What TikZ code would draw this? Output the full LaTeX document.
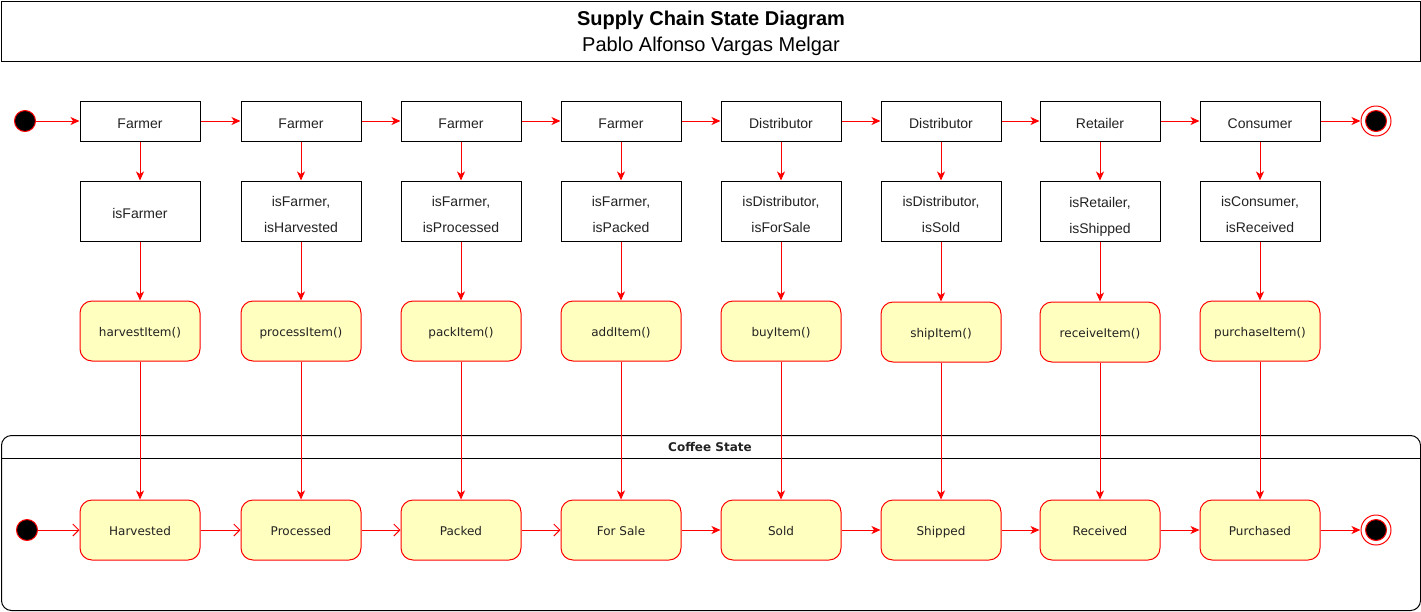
\documentclass[tikz,border=0pt]{standalone}
\usepackage{fontspec}
\setmainfont{Liberation Sans}
\newfontfamily\verd{DejaVu Sans}
\usetikzlibrary{arrows.meta}
\definecolor{stateyellow}{HTML}{FFFFC0}
\definecolor{txt}{HTML}{222222}
\newcommand\myupstrut{\rule{0pt}{18pt}}
\begin{document}
\begin{tikzpicture}[x=1pt,y=-1pt,
  actor/.style={draw=black, line width=1pt, minimum width=120pt, minimum height=40pt, inner sep=0pt, font=\fontsize{14}{16}\selectfont, text=txt, text height=15pt, text depth=0pt},
  guard/.style={draw=black, line width=1pt, minimum width=120pt, minimum height=60pt, inner sep=0pt, text=txt, align=center, font=\fontsize{14}{26}\selectfont},
  guardone/.style={actor, minimum height=60pt},
  st/.style={draw=red, fill=stateyellow, rounded corners=12pt, line width=1pt, minimum width=120pt, minimum height=60pt, inner sep=0pt, text=txt, font=\verd\fontsize{12}{14}\selectfont, text height=10pt, text depth=0pt},
  fa/.style={draw=red, line width=1pt, -{Stealth[length=9pt,width=8pt,inset=2.5pt]}},
  oa/.style={draw=red, line width=1pt, -{Straight Barb[length=6pt,width=12pt]}},
  initst/.style={circle, draw=red, line width=1pt, fill=black, minimum size=21pt, inner sep=0pt},
  finst/.style={circle, draw=red, line width=1pt, fill=white, minimum size=30pt, inner sep=0pt,
     path picture={\fill[black] (path picture bounding box.center) circle (10.5pt); \draw[red,line width=1pt] (path picture bounding box.center) circle (10.5pt);}}
]
\useasboundingbox (0,0) rectangle (1421,611);

% title
\node[draw, line width=1pt, minimum width=1419pt, minimum height=60pt, anchor=north west, inner sep=0pt, align=center, font=\fontsize{20}{26}\selectfont, text=black] (title) at (1,1)
  {\myupstrut\textbf{Supply Chain State Diagram}\\Pablo Alfonso Vargas Melgar};

% coffee state frame
\node[draw, line width=1pt, rounded corners=10pt, minimum width=1419pt, minimum height=175pt, anchor=north west, inner sep=0pt] (frame) at (1,435) {};
\draw[line width=1pt] ([yshift=-23pt]frame.north west) -- ([yshift=-23pt]frame.north east);
\node[font=\verd\bfseries\fontsize{12}{14}\selectfont, text=txt] (frametitle) at (710,447) {Coffee State};

% top row
\node[actor] (a1) at (140,121) {Farmer};
\node[actor] (a2) at (301,121) {Farmer};
\node[actor] (a3) at (461,121) {Farmer};
\node[actor] (a4) at (621,121) {Farmer};
\node[actor] (a5) at (781,121) {Distributor};
\node[actor] (a6) at (941,121) {Distributor};
\node[actor] (a7) at (1100,121) {Retailer};
\node[actor] (a8) at (1260,121) {Consumer};

\node[guardone] (g1) at (140,211) {isFarmer};
\node[guard] (g2) at (301,211) {\myupstrut isFarmer,\\isHarvested};
\node[guard] (g3) at (461,211) {\myupstrut isFarmer,\\isProcessed};
\node[guard] (g4) at (621,211) {\myupstrut isFarmer,\\isPacked};
\node[guard] (g5) at (781,211) {\myupstrut isDistributor,\\isForSale};
\node[guard] (g6) at (941,211) {\myupstrut isDistributor,\\isSold};
\node[guard] (g7) at (1100,211) {\myupstrut isRetailer,\\\smash{isShipped}};
\node[guard] (g8) at (1260,211) {\myupstrut isConsumer,\\isReceived};

\node[st] (f1) at (140,331) {harvestItem()};
\node[st] (f2) at (301,331) {processItem()};
\node[st] (f3) at (461,331) {packItem()};
\node[st] (f4) at (621,331) {addItem()};
\node[st] (f5) at (781,331) {buyItem()};
\node[st] (f6) at (941,332) {shipItem()};
\node[st] (f7) at (1100,332) {receiveItem()};
\node[st] (f8) at (1260,331) {purchaseItem()};

\node[st] (s1) at (140,530) {Harvested};
\node[st] (s2) at (301,530) {Processed};
\node[st] (s3) at (461,530) {Packed};
\node[st] (s4) at (621,530) {For Sale};
\node[st] (s5) at (781,530) {Sold};
\node[st] (s6) at (941,530) {Shipped};
\node[st] (s7) at (1100,530) {Received};
\node[st] (s8) at (1260,530) {Purchased};

\node[initst] (ti) at (25,121) {};
\node[finst] (tf) at (1376,121) {};
\node[initst] (bi) at (27,530) {};
\node[finst] (bf) at (1376,530) {};

% top connectors
\draw[fa] (ti) -- (a1);
\draw[fa] (a1) -- (a2);
\draw[fa] (a2) -- (a3);
\draw[fa] (a3) -- (a4);
\draw[fa] (a4) -- (a5);
\draw[fa] (a5) -- (a6);
\draw[fa] (a6) -- (a7);
\draw[fa] (a7) -- (a8);
\draw[fa] (a8) -- (tf);

\foreach \i in {1,...,8}{
  \draw[fa] (a\i) -- (g\i);
  \draw[fa] (g\i) -- (f\i);
  \draw[fa] (f\i) -- (s\i);
}

% bottom connectors
\draw[oa] (bi) -- (s1);
\draw[oa] (s1) -- (s2);
\draw[oa] (s2) -- (s3);
\draw[oa] (s3) -- (s4);
\draw[fa] (s4) -- (s5);
\draw[fa] (s5) -- (s6);
\draw[fa] (s6) -- (s7);
\draw[fa] (s7) -- (s8);
\draw[fa] (s8) -- (bf);
\end{tikzpicture}
\end{document}
